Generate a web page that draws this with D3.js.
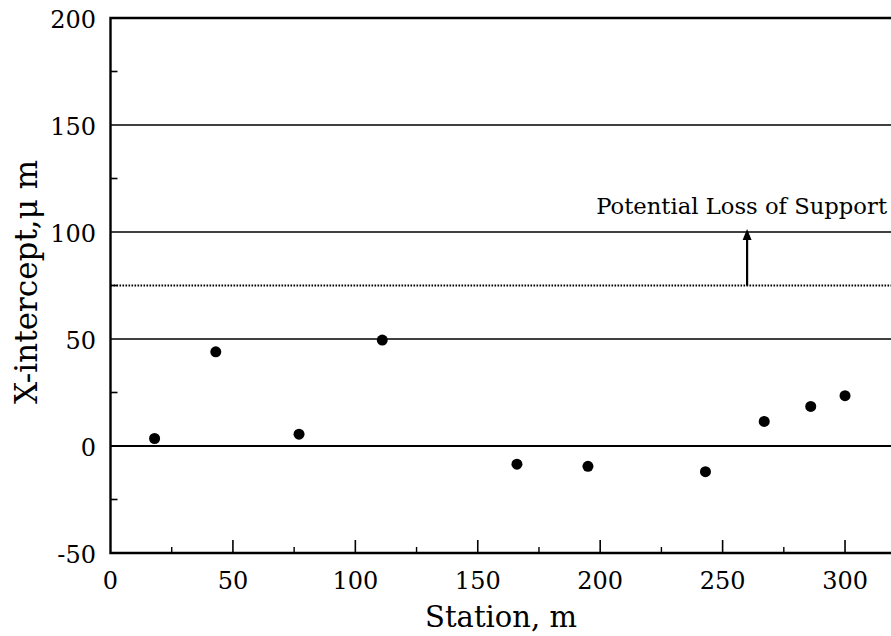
<!DOCTYPE html>
<html>
<head>
<meta charset="utf-8">
<script src="https://cdn.jsdelivr.net/npm/d3@7"></script>
<style>
  body { margin: 0; background: #fff; }
  svg text { font-family: "DejaVu Serif", serif; fill: #000; }
</style>
</head>
<body>
<div id="chart"></div>
<script>
// station (m) and x-intercept (um)
var stations = [18, 43, 77, 111, 166, 195, 243, 267, 286, 300];
var xIntercepts = [3.5, 44, 5.5, 49.5, -8.5, -9.5, -12, 11.5, 18.5, 23.5];

var xTicks = [0, 50, 100, 150, 200, 250, 300];
var xMinorTicks = [25, 75, 125, 175, 225, 275];
var yTicks = [-50, 0, 50, 100, 150, 200];
var yMinorTicks = [-25, 25, 75, 125, 175];
var gridLevels = [0, 50, 100, 150];

var threshold = 75;           // dotted line
var arrowStation = 260;       // arrow from threshold up to gridline at 100
var arrowTop = 100;
var annotation = "Potential Loss of Support";

var W = 891, H = 636;

var x = d3.scaleLinear().domain([0, 320]).range([110.5, 894]);
var y = d3.scaleLinear().domain([-50, 200]).range([553, 18]);

var svg = d3.select("#chart").append("svg")
    .attr("width", W)
    .attr("height", H);

// gridlines
svg.append("g").selectAll("line").data(gridLevels).enter().append("line")
    .attr("x1", x(0)).attr("x2", x(320))
    .attr("y1", function(d) { return y(d); })
    .attr("y2", function(d) { return y(d); })
    .style("stroke", "#000")
    .style("stroke-width", function(d) { return d === 0 ? 2 : 1.5; });

// threshold dotted line
svg.append("line")
    .attr("x1", x(0)).attr("x2", x(320))
    .attr("y1", y(threshold)).attr("y2", y(threshold))
    .style("stroke", "#000")
    .style("stroke-width", 2)
    .style("stroke-dasharray", "1.6,1.4");

// frame: top, left, bottom
svg.append("polyline")
    .attr("points", x(320) + "," + y(200) + " " + x(0) + "," + y(200) + " " +
          x(0) + "," + y(-50) + " " + x(320) + "," + y(-50))
    .style("fill", "none")
    .style("stroke", "#000")
    .style("stroke-width", 2.4);

// x ticks (pointing inward)
svg.append("g").selectAll("line").data(xTicks.slice(1)).enter().append("line")
    .attr("x1", function(d) { return x(d); }).attr("x2", function(d) { return x(d); })
    .attr("y1", y(-50)).attr("y2", y(-50) - 13)
    .style("stroke", "#000").style("stroke-width", 1.6);
svg.append("g").selectAll("line").data(xMinorTicks).enter().append("line")
    .attr("x1", function(d) { return x(d); }).attr("x2", function(d) { return x(d); })
    .attr("y1", y(-50)).attr("y2", y(-50) - 6)
    .style("stroke", "#000").style("stroke-width", 1.4);

// y minor ticks
svg.append("g").selectAll("line").data(yMinorTicks).enter().append("line")
    .attr("x1", x(0)).attr("x2", x(0) + 7)
    .attr("y1", function(d) { return y(d); })
    .attr("y2", function(d) { return y(d); })
    .style("stroke", "#000").style("stroke-width", 1.6);

// tick labels
svg.append("g").selectAll("text").data(xTicks).enter().append("text")
    .attr("x", function(d) { return x(d); })
    .attr("y", 589)
    .attr("text-anchor", "middle")
    .style("font-size", "24px")
    .text(function(d) { return d; });

svg.append("g").selectAll("text").data(yTicks).enter().append("text")
    .attr("x", 96)
    .attr("y", function(d) { return y(d); })
    .attr("dy", "0.4em")
    .attr("text-anchor", "end")
    .style("font-size", "24px")
    .text(function(d) { return d; });

// axis titles
svg.append("text")
    .attr("x", 501)
    .attr("y", 627)
    .attr("text-anchor", "middle")
    .style("font-size", "29px")
    .text("Station, m");

svg.append("text")
    .attr("transform", "translate(37," + 282 + ") rotate(-90)")
    .attr("text-anchor", "middle")
    .style("font-size", "31px")
    .text("X-intercept,\u03bc m");

// arrow + annotation
svg.append("line")
    .attr("x1", x(arrowStation)).attr("x2", x(arrowStation))
    .attr("y1", y(threshold)).attr("y2", y(arrowTop) + 6)
    .style("stroke", "#000").style("stroke-width", 2.2);
svg.append("path")
    .attr("d", "M" + x(arrowStation) + "," + (y(arrowTop) - 3) +
               " l-4.5,11 l9,0 z")
    .style("fill", "#000");

svg.append("text")
    .attr("x", 887)
    .attr("y", 214)
    .attr("text-anchor", "end")
    .style("font-size", "22.7px")
    .text(annotation);

// data points
svg.append("g").selectAll("circle").data(stations).enter().append("circle")
    .attr("cx", function(d) { return x(d); })
    .attr("cy", function(d, i) { return y(xIntercepts[i]); })
    .attr("r", 5.5)
    .style("fill", "#000");
</script>
</body>
</html>
